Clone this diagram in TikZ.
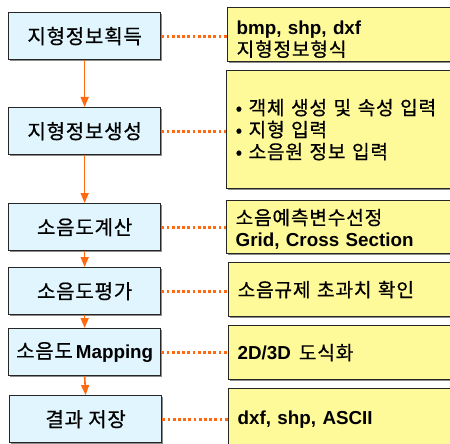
\documentclass[tikz,border=0pt]{standalone}
\usepackage{fontspec}
\setmainfont{Liberation Sans}
\newfontfamily\kor{Noto Sans CJK KR}[LetterSpace=4,FakeBold=0.6]
\newfontfamily\arial{Liberation Sans}
\usetikzlibrary{arrows.meta,shadows}
\newcommand{\lat}[1]{{\arial\bfseries\fontsize{18.8}{22}\selectfont #1}}
\definecolor{flowc}{HTML}{FF6A10}
\tikzset{
  leftbox/.style={draw=black!85, line width=1.3pt, fill=cyan!12, minimum width=152pt, minimum height=47pt, inner sep=0pt, anchor=north west, font=\kor\fontsize{20}{22}\selectfont,
    drop shadow={shadow xshift=1.2pt, shadow yshift=-1.2pt, fill=black!45, opacity=1}},
  rightbox/.style={draw=black!85, line width=1.3pt, fill=yellow!40, minimum width=229pt, inner xsep=9pt, inner ysep=0pt, text width=211pt, align=left, anchor=north west, font=\kor\fontsize{19.2}{22}\selectfont,
    drop shadow={shadow xshift=1.2pt, shadow yshift=-1.2pt, fill=black!45, opacity=1}},
  flow/.style={draw=flowc, line width=1.6pt, -{Triangle[length=10pt,width=8pt]}},
  dots/.style={draw=flowc, line width=2.8pt, dash pattern=on 2.8pt off 2.4pt},
}
\begin{document}
\begin{tikzpicture}[x=1pt,y=-1pt]
\useasboundingbox (0,0) rectangle (450,444);
\clip (0,0) rectangle (450,444);
% left boxes
\node[leftbox] (a1) at (8,12) {지형정보획득};
\node[leftbox] (a2) at (8,107) {지형정보생성};
\node[leftbox] (a3) at (8,203) {소음도계산};
\node[leftbox] (a4) at (8,267) {소음도평가};
\node[leftbox] (a5) at (8,328) {소음도\hspace{3pt}\lat{Mapping}};
\node[leftbox] (a6) at (9,395) {결과 저장};
% right boxes
\node[rightbox, minimum height=54pt] (b1) at (227,7) {\rule{0pt}{23pt}\lat{bmp, shp, dxf}\\지형정보형식};
\node[rightbox, minimum height=118pt] (b2) at (226,70) {• 객체 생성 및 속성 입력\\• 지형 입력\\• 소음원 정보 입력};
\node[rightbox, minimum height=53pt] (b3) at (226,200) {\rule{0pt}{20pt}소음예측변수선정\\\lat{Grid, Cross Section}};
\node[rightbox, minimum height=54pt] (b4) at (228,262) {소음규제 초과치 확인};
\node[rightbox, minimum height=54pt] (b5) at (228,325) {\lat{2D/3D}\hspace{8pt}도식화};
\node[rightbox, minimum height=62pt] (b6) at (228,388) {\lat{dxf, shp, ASCII}};
% flow arrows
\draw[flow] (a1.south) -- (a2.north);
\draw[flow] (a2.south) -- (a3.north);
\draw[flow] (a3.south) -- (a4.north);
\draw[flow] (a4.south) -- (a5.north);
\draw[flow] (a5.south) -- (a6.north);
% dotted links
\draw[dots] (a1.east) -- (a1.east -| b1.west);
\draw[dots] (a2.east) -- (a2.east -| b2.west);
\draw[dots] (a3.east) -- (a3.east -| b3.west);
\draw[dots] (a4.east) -- (a4.east -| b4.west);
\draw[dots] (a5.east) -- (a5.east -| b5.west);
\draw[dots] (a6.east) -- (a6.east -| b6.west);
\end{tikzpicture}
\end{document}
